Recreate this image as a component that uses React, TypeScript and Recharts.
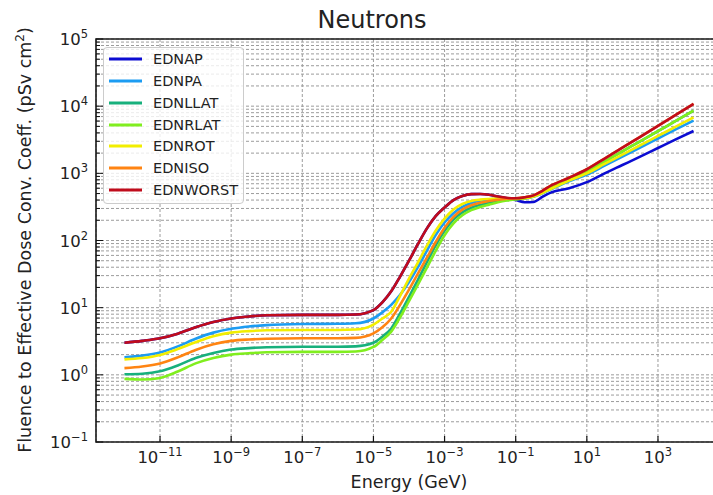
import React from 'react';
import { LineChart, Line, XAxis, YAxis, CartesianGrid, Legend, ReferenceArea } from 'recharts';

// energies in GeV
const energy = [
  1e-12, 3.16e-12, 1e-11, 3.16e-11, 1e-10, 3.16e-10, 1e-9, 3.16e-9, 1e-8, 1e-7, 1e-6, 3.16e-6,
  1e-5, 1.78e-5, 3.16e-5, 5.62e-5, 1e-4, 1.78e-4, 3.16e-4, 5.62e-4, 1e-3, 1.78e-3, 3.16e-3, 5.62e-3,
  0.01, 0.0178, 0.0316, 0.0562, 0.1, 0.178, 0.316, 0.562, 1, 3.16, 10, 31.6, 100, 316, 1000, 3160, 10000,
];

// pSv cm^2
const ednap = [
  3.0, 3.2, 3.5, 4.1, 5.1, 6.1, 6.9, 7.4, 7.7, 7.8, 7.8, 7.9,
  9.2, 12, 17.5, 29, 50, 88, 150, 230, 310, 400, 460, 490,
  492, 480, 452, 425, 400, 372, 375, 445, 520, 600, 740, 1000, 1330, 1770, 2380, 3200, 4270,
];
const ednpa = [
  1.82, 1.93, 2.15, 2.65, 3.45, 4.25, 4.85, 5.25, 5.5, 5.7, 5.75, 5.85,
  6.9, 8.5, 11, 15.5, 24, 40, 70, 120, 185, 255, 318, 362,
  392, 408, 416, 420, 422, 423, 448, 505, 580, 760, 955, 1300, 1770, 2420, 3300, 4500, 6080,
];
const ednllat = [
  1.02, 1.04, 1.13, 1.38, 1.78, 2.12, 2.38, 2.5, 2.58, 2.62, 2.62, 2.65,
  3.0, 3.7, 4.9, 8.2, 14.5, 26, 47, 85, 140, 205, 262, 308,
  338, 362, 385, 402, 414, 425, 455, 520, 610, 810, 1060, 1500, 2130, 3000, 4250, 6030, 8550,
];
const ednrlat = [
  0.87, 0.85, 0.9, 1.12, 1.48, 1.78, 2.0, 2.1, 2.17, 2.2, 2.2, 2.22,
  2.6, 3.3, 4.4, 7.2, 12.5, 22, 39, 70, 120, 180, 237, 283,
  315, 342, 370, 393, 410, 425, 455, 520, 610, 810, 1060, 1500, 2130, 3000, 4250, 6030, 8550,
];
const ednrot = [
  1.7, 1.78, 1.98, 2.42, 3.05, 3.75, 4.25, 4.48, 4.6, 4.65, 4.65, 4.72,
  5.6, 6.9, 8.7, 15, 27, 47, 83, 140, 212, 290, 350, 388,
  406, 415, 420, 423, 425, 425, 450, 510, 590, 780, 1000, 1380, 1900, 2620, 3600, 4960, 6820,
];
const edniso = [
  1.26, 1.33, 1.48, 1.82, 2.35, 2.85, 3.2, 3.36, 3.45, 3.5, 3.5, 3.55,
  4.15, 5.1, 6.9, 11, 18.5, 32, 55, 95, 155, 225, 288, 335,
  365, 388, 405, 418, 425, 440, 470, 550, 660, 860, 1150, 1660, 2420, 3500, 5100, 7400, 10800,
];
const ednworst = [
  3.0, 3.2, 3.5, 4.1, 5.1, 6.1, 6.9, 7.4, 7.7, 7.8, 7.8, 7.9,
  9.2, 12, 17.5, 29, 50, 88, 150, 230, 310, 400, 460, 490,
  492, 480, 452, 432, 425, 440, 470, 550, 660, 860, 1150, 1660, 2420, 3500, 5100, 7400, 10800,
];

const xTickExps = [-11, -9, -7, -5, -3, -1, 1, 3];
const yTickExps = [-1, 0, 1, 2, 3, 4, 5];

const series = [
  { key: 'EDNAP', color: '#0c0cd2', values: ednap },
  { key: 'EDNPA', color: '#1c9cf2', values: ednpa },
  { key: 'EDNLLAT', color: '#17b07c', values: ednllat },
  { key: 'EDNRLAT', color: '#80ee1e', values: ednrlat },
  { key: 'EDNROT', color: '#f2ee00', values: ednrot },
  { key: 'EDNISO', color: '#ff8412', values: edniso },
  { key: 'EDNWORST', color: '#c00c1c', values: ednworst },
];

const data = energy.map((e, i) => {
  const row: Record<string, number> = { energy: e };
  series.forEach((s) => (row[s.key] = s.values[i]));
  return row;
});

const X_MIN = Math.pow(10, -12.8);
const X_MAX = Math.pow(10, 4.8);
const xTicks = xTickExps.map((p) => Math.pow(10, p));
const yTicks: number[] = [];
yTickExps.forEach((p) => {
  if (p === 5) { yTicks.push(1e5); return; }
  for (let k = 1; k <= 9; k++) yTicks.push(k * Math.pow(10, p));
});

const FONT = 'DejaVu Sans';
const expLabel = (p: number) => (p < 0 ? `\u2212${-p}` : `${p}`);

const XTick = (props: any) => {
  const { x, y, payload } = props;
  const p = Math.round(Math.log10(payload.value));
  return (
    <g>
      <line x1={x} x2={x} y1={y} y2={y - 6} stroke="#111" strokeWidth={1.2} />
      <text x={x} y={y + 21} textAnchor="middle" fontSize={16.5} fill="#222" fontFamily={FONT}>
        10<tspan dy={-7} fontSize={11.5}>{expLabel(p)}</tspan>
      </text>
    </g>
  );
};

const YTick = (props: any) => {
  const { x, y, payload } = props;
  const lg = Math.log10(payload.value);
  const major = Math.abs(lg - Math.round(lg)) < 1e-6;
  return (
    <g>
      <line x1={x} x2={x + (major ? 7 : 4)} y1={y} y2={y} stroke="#111" strokeWidth={1} />
      {major && (
        <text x={x - 8} y={y + 6} textAnchor="end" fontSize={16.5} fill="#222" fontFamily={FONT}>
          10<tspan dy={-7} fontSize={11.5}>{expLabel(Math.round(lg))}</tspan>
        </text>
      )}
    </g>
  );
};

const renderLegend = () => (
  <div
    style={{
      position: 'relative',
      width: 141,
      height: 157,
      boxSizing: 'border-box',
      border: '1px solid #cccccc',
      borderRadius: 4,
      background: 'rgba(255,255,255,0.8)',
      fontFamily: FONT,
      fontSize: 14.5,
      color: '#222',
    }}
  >
    {series.map((s, i) => (
      <div key={s.key} style={{ position: 'absolute', left: 0, top: 11 + i * 21.85 - 9, height: 18, width: 141 }}>
        <svg width={40} height={18} style={{ position: 'absolute', left: 0, top: 0 }}>
          <line x1={5} x2={38} y1={9} y2={9} stroke={s.color} strokeWidth={2.8} />
        </svg>
        <span style={{ position: 'absolute', left: 49, top: 0, lineHeight: '18px' }}>{s.key}</span>
      </div>
    ))}
  </div>
);

export default function App() {
  return (
    <div style={{ position: 'absolute', left: 0, top: 0, width: 713, height: 495, overflow: 'hidden', background: '#fff' }}>
      <LineChart width={740} height={495} data={data} margin={{ top: 39, right: 18, bottom: 23, left: 36 }}>
        <CartesianGrid stroke="#9c9c9c" strokeDasharray="3 2" strokeWidth={1} />
        <XAxis
          dataKey="energy"
          type="number"
          scale="log"
          domain={[X_MIN, X_MAX]}
          allowDataOverflow
          ticks={xTicks}
          interval={0}
          height={30}
          tickSize={0}
          tickMargin={0}
          tickLine={false}
          axisLine={false}
          tick={<XTick />}
        />
        <YAxis
          type="number"
          scale="log"
          domain={[0.1, 1e5]}
          allowDataOverflow
          ticks={yTicks}
          interval={0}
          width={60}
          tickSize={0}
          tickMargin={0}
          tickLine={false}
          axisLine={false}
          tick={<YTick />}
        />
        <ReferenceArea x1={X_MIN} x2={X_MAX} y1={0.1} y2={1e5} fill="none" stroke="#1a1a1a" strokeWidth={1.6} ifOverflow="visible" />
        {series.map((s) => (
          <Line
            key={s.key}
            dataKey={s.key}
            type="monotone"
            stroke={s.color}
            strokeWidth={2.6}
            dot={false}
            isAnimationActive={false}
          />
        ))}
        <Legend
          layout="vertical"
          align="center"
          verticalAlign="middle"
          content={renderLegend}
          wrapperStyle={{ left: 103, top: 47, width: 141, height: 157 }}
        />
      </LineChart>
      <svg width={713} height={495} style={{ position: 'absolute', left: 0, top: 0, pointerEvents: 'none' }}>
        <text x={372} y={28} textAnchor="middle" fontSize={24} fill="#222" fontFamily={FONT}>Neutrons</text>
        <text x={409} y={488} textAnchor="middle" fontSize={17.5} fill="#222" fontFamily={FONT}>Energy (GeV)</text>
        <text transform="translate(31,240) rotate(-90)" textAnchor="middle" fontSize={17.5} fill="#222" fontFamily={FONT}>
          Fluence to Effective Dose Conv. Coeff. (pSv cm<tspan dy={-7} fontSize={12}>2</tspan><tspan dy={7}>)</tspan>
        </text>
      </svg>
    </div>
  );
}
